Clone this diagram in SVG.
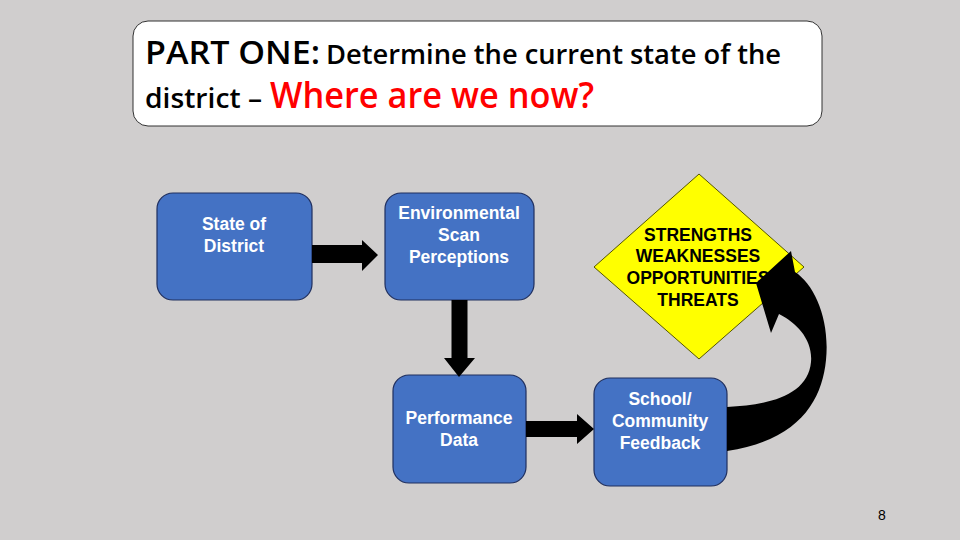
<svg xmlns="http://www.w3.org/2000/svg" width="960" height="540" viewBox="0 0 960 540">
<style>
.box{fill:#4472C4;stroke:#1F2F5F;stroke-width:1.2}
.bt{font-family:"Liberation Sans",Arial,sans-serif;font-weight:bold;font-size:17.5px;fill:#FFFFFF;text-anchor:middle}
.dt{font-family:"Liberation Sans",Arial,sans-serif;font-weight:bold;font-size:17.5px;fill:#000000;text-anchor:middle}
.ttl{font-family:"Open Sans","Liberation Sans",sans-serif;font-weight:600;fill:#000000}
.arr{fill:#000000;stroke:none}
</style>
<rect width="960" height="540" fill="#D0CECE"/>
<g id="title">
<rect x="133" y="21" width="689" height="105" rx="15" fill="#FFFFFF" stroke="#333333" stroke-width="1"/>
<text class="ttl" x="145" y="64" font-size="33" textLength="175" lengthAdjust="spacingAndGlyphs">PART ONE:</text>
<text class="ttl" x="326" y="64" font-size="27" textLength="455" lengthAdjust="spacingAndGlyphs">Determine the current state of the</text>
<text class="ttl" x="145" y="108" font-size="27" textLength="117" lengthAdjust="spacingAndGlyphs">district –</text>
<text class="ttl" x="270" y="108" font-size="36" style="fill:#FF0000" textLength="324" lengthAdjust="spacingAndGlyphs">Where are we now?</text>
</g>
<g id="state">
<rect class="box" x="157" y="193" width="155" height="107" rx="16"/>
<text class="bt" x="234" y="230">State of</text>
<text class="bt" x="234" y="252">District</text>
</g>
<g id="env">
<rect class="box" x="385" y="193" width="149" height="107" rx="16"/>
<text class="bt" x="459" y="219">Environmental</text>
<text class="bt" x="459" y="241">Scan</text>
<text class="bt" x="459" y="263">Perceptions</text>
</g>
<g id="perf">
<rect class="box" x="393" y="375" width="133" height="108" rx="16"/>
<text class="bt" x="459" y="424">Performance</text>
<text class="bt" x="459" y="446">Data</text>
</g>
<g id="swot">
<polygon points="699,174 804,267 699,359 594,267" fill="#FFFF00" stroke="#555500" stroke-width="1"/>
<text class="dt" x="698" y="241">STRENGTHS</text>
<text class="dt" x="698" y="262">WEAKNESSES</text>
<text class="dt" x="698" y="284">OPPORTUNITIES</text>
<text class="dt" x="698" y="306">THREATS</text>
</g>
<g id="feedback">
<rect class="box" x="594" y="378" width="133" height="108" rx="16"/>
<text class="bt" x="660" y="405">School/</text>
<text class="bt" x="660" y="427">Community</text>
<text class="bt" x="660" y="449">Feedback</text>
</g>
<g id="connectors">
<polygon class="arr" points="312,245 362,245 362,240 378,255 362,271 362,263 312,263"/>
<polygon class="arr" points="451.5,300 467.5,300 467.5,358 475,358 459,377 444,358 451.5,358"/>
<polygon class="arr" points="526,421 577,421 577,414 594,429 577,444 577,437 526,437"/>
<path class="arr" d="M727,407 C770,405 808,395 811,362 C813,340 797,323 779,314 L771,333 L756,283 L791,251 L795,272 C815,285 830,320 826,360 C822,400 800,440 727,451 Z"/>
</g>
<text x="882" y="520" font-family="Liberation Sans,Arial,sans-serif" font-size="14" fill="#000000" text-anchor="middle">8</text>
</svg>
